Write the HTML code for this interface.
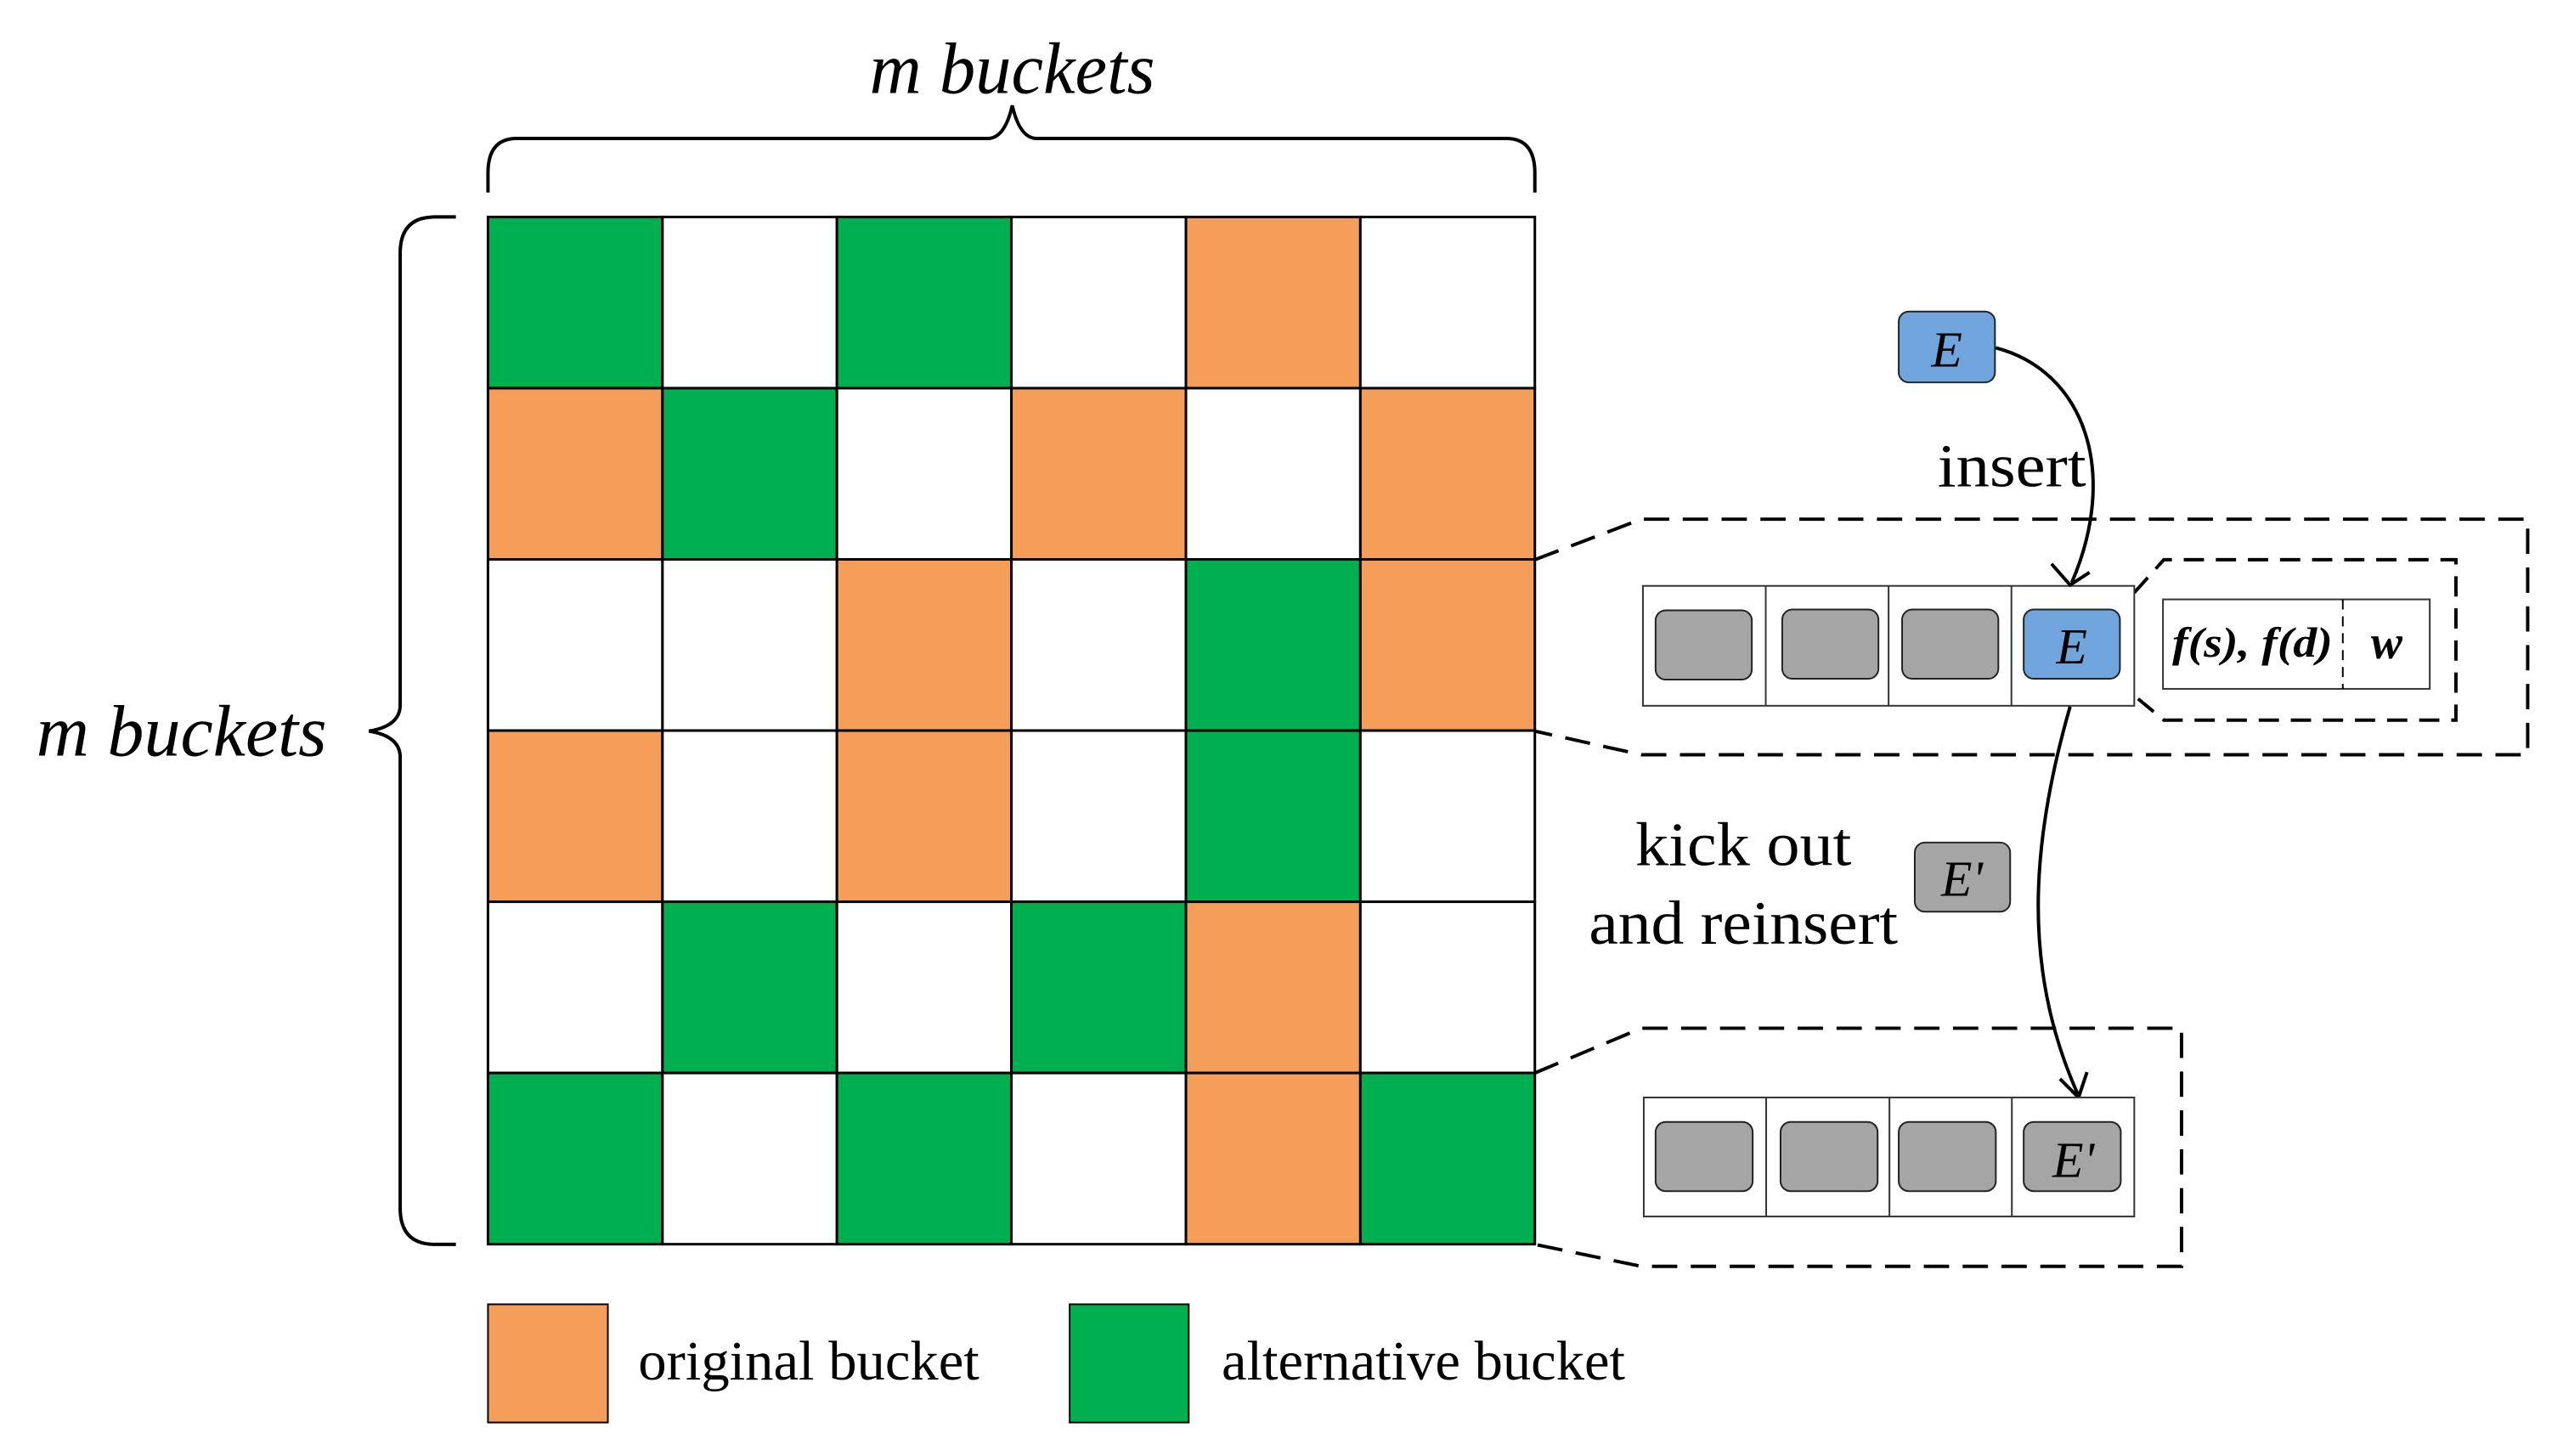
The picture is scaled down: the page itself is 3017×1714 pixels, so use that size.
<!DOCTYPE html>
<html><head><meta charset="utf-8"><style>html,body{margin:0;padding:0;background:#fff}svg{display:block}</style></head><body>
<svg width="3017" height="1714" viewBox="0 0 3017 1714" xmlns="http://www.w3.org/2000/svg" font-family="'Liberation Serif', serif">
<g transform="scale(0.9938)">
<g stroke="#000" stroke-width="3">
<rect x="578" y="257" width="206.7" height="202.8" fill="#00B050"/>
<rect x="784.7" y="257" width="206.7" height="202.8" fill="#fff"/>
<rect x="991.3" y="257" width="206.7" height="202.8" fill="#00B050"/>
<rect x="1198" y="257" width="206.7" height="202.8" fill="#fff"/>
<rect x="1404.7" y="257" width="206.7" height="202.8" fill="#F49E5A"/>
<rect x="1611.3" y="257" width="206.7" height="202.8" fill="#fff"/>
<rect x="578" y="459.8" width="206.7" height="202.8" fill="#F49E5A"/>
<rect x="784.7" y="459.8" width="206.7" height="202.8" fill="#00B050"/>
<rect x="991.3" y="459.8" width="206.7" height="202.8" fill="#fff"/>
<rect x="1198" y="459.8" width="206.7" height="202.8" fill="#F49E5A"/>
<rect x="1404.7" y="459.8" width="206.7" height="202.8" fill="#fff"/>
<rect x="1611.3" y="459.8" width="206.7" height="202.8" fill="#F49E5A"/>
<rect x="578" y="662.6" width="206.7" height="202.8" fill="#fff"/>
<rect x="784.7" y="662.6" width="206.7" height="202.8" fill="#fff"/>
<rect x="991.3" y="662.6" width="206.7" height="202.8" fill="#F49E5A"/>
<rect x="1198" y="662.6" width="206.7" height="202.8" fill="#fff"/>
<rect x="1404.7" y="662.6" width="206.7" height="202.8" fill="#00B050"/>
<rect x="1611.3" y="662.6" width="206.7" height="202.8" fill="#F49E5A"/>
<rect x="578" y="865.4" width="206.7" height="202.8" fill="#F49E5A"/>
<rect x="784.7" y="865.4" width="206.7" height="202.8" fill="#fff"/>
<rect x="991.3" y="865.4" width="206.7" height="202.8" fill="#F49E5A"/>
<rect x="1198" y="865.4" width="206.7" height="202.8" fill="#fff"/>
<rect x="1404.7" y="865.4" width="206.7" height="202.8" fill="#00B050"/>
<rect x="1611.3" y="865.4" width="206.7" height="202.8" fill="#fff"/>
<rect x="578" y="1068.2" width="206.7" height="202.8" fill="#fff"/>
<rect x="784.7" y="1068.2" width="206.7" height="202.8" fill="#00B050"/>
<rect x="991.3" y="1068.2" width="206.7" height="202.8" fill="#fff"/>
<rect x="1198" y="1068.2" width="206.7" height="202.8" fill="#00B050"/>
<rect x="1404.7" y="1068.2" width="206.7" height="202.8" fill="#F49E5A"/>
<rect x="1611.3" y="1068.2" width="206.7" height="202.8" fill="#fff"/>
<rect x="578" y="1271" width="206.7" height="202.8" fill="#00B050"/>
<rect x="784.7" y="1271" width="206.7" height="202.8" fill="#fff"/>
<rect x="991.3" y="1271" width="206.7" height="202.8" fill="#00B050"/>
<rect x="1198" y="1271" width="206.7" height="202.8" fill="#fff"/>
<rect x="1404.7" y="1271" width="206.7" height="202.8" fill="#F49E5A"/>
<rect x="1611.3" y="1271" width="206.7" height="202.8" fill="#00B050"/>
</g>

<path d="M578,228 L578,205 Q578,164 612,164 L1170,164 Q1190,164 1199,125 Q1208,164 1228,164 L1784,164 Q1818,164 1818,205 L1818,228" fill="none" stroke="#000" stroke-width="4"/>
<text x="1199" y="110" font-size="86" font-style="italic" text-anchor="middle" textLength="338" lengthAdjust="spacingAndGlyphs">m buckets</text>

<path d="M540,257 L515,257 Q474,257 474,300 L474,835 Q474,860 437,866 Q474,872 474,897 L474,1431 Q474,1474 515,1474 L540,1474" fill="none" stroke="#000" stroke-width="4"/>
<text x="43" y="895" font-size="86" font-style="italic" textLength="344" lengthAdjust="spacingAndGlyphs">m buckets</text>

<path d="M1818,663 L1944,615 L2994,615 L2994,894 L1944,894 L1818,866" fill="none" stroke="#000" stroke-width="4" stroke-dasharray="30,16"/>
<path d="M2528,702 L2563,663 L2909,663 L2909,853 L2563,853 L2528,824" fill="none" stroke="#000" stroke-width="4" stroke-dasharray="24,14"/>

<g stroke="#333" stroke-width="2" fill="#fff">
<rect x="1946" y="694" width="582" height="142"/>
<line x1="2091.5" y1="694" x2="2091.5" y2="836"/>
<line x1="2237" y1="694" x2="2237" y2="836"/>
<line x1="2382.5" y1="694" x2="2382.5" y2="836"/>
</g>
<g stroke="#222" stroke-width="2">
<rect x="1961" y="723" width="114" height="82" rx="12" fill="#A5A5A5"/>
<rect x="2111" y="722" width="114" height="82" rx="12" fill="#A5A5A5"/>
<rect x="2253" y="722" width="114" height="82" rx="12" fill="#A5A5A5"/>
<rect x="2397" y="722" width="114" height="82" rx="12" fill="#6FA5DC"/>
</g>
<text x="2454" y="786" font-size="60" font-style="italic" text-anchor="middle">E</text>

<rect x="2562" y="710" width="316" height="106" fill="#fff" stroke="#333" stroke-width="2"/>
<line x1="2775" y1="710" x2="2775" y2="816" stroke="#000" stroke-width="2" stroke-dasharray="12,8"/>
<text x="2668" y="778" font-size="50" font-style="italic" font-weight="bold" text-anchor="middle" textLength="190" lengthAdjust="spacingAndGlyphs">f(s), f(d)</text>
<text x="2827" y="780" font-size="56" font-style="italic" font-weight="bold" text-anchor="middle">w</text>

<rect x="2249" y="369" width="114" height="84" rx="12" fill="#6FA5DC" stroke="#222" stroke-width="2"/>
<text x="2306" y="434" font-size="60" font-style="italic" text-anchor="middle">E</text>

<path d="M2364,412 C2470,440 2510,560 2454,690" fill="none" stroke="#000" stroke-width="4"/>
<path d="M2430,668 L2452,693 L2475,678" fill="none" stroke="#000" stroke-width="4"/>
<text x="2383" y="576" font-size="72" text-anchor="middle" textLength="176" lengthAdjust="spacingAndGlyphs">insert</text>

<path d="M2452,837 C2405,1000 2395,1150 2462,1298" fill="none" stroke="#000" stroke-width="4"/>
<path d="M2440,1278 L2462,1300 L2472,1270" fill="none" stroke="#000" stroke-width="4"/>

<text x="2065" y="1025" font-size="74" text-anchor="middle" textLength="256" lengthAdjust="spacingAndGlyphs">kick out</text>
<text x="2065" y="1118" font-size="74" text-anchor="middle" textLength="366" lengthAdjust="spacingAndGlyphs">and reinsert</text>

<rect x="2268" y="998" width="113" height="82" rx="12" fill="#A5A5A5" stroke="#222" stroke-width="2"/>
<text x="2324" y="1061" font-size="60" font-style="italic" text-anchor="middle">E'</text>

<path d="M1818,1271 L1944,1218 L2584,1218 L2584,1500 L1944,1500 L1818,1474" fill="none" stroke="#000" stroke-width="4" stroke-dasharray="30,16"/>
<g stroke="#333" stroke-width="2" fill="#fff">
<rect x="1947" y="1300" width="581" height="141"/>
<line x1="2092" y1="1300" x2="2092" y2="1441"/>
<line x1="2238" y1="1300" x2="2238" y2="1441"/>
<line x1="2383" y1="1300" x2="2383" y2="1441"/>
</g>
<g stroke="#222" stroke-width="2" fill="#A5A5A5">
<rect x="1961" y="1329" width="115" height="82" rx="12"/>
<rect x="2109" y="1329" width="115" height="82" rx="12"/>
<rect x="2249" y="1329" width="115" height="82" rx="12"/>
<rect x="2397" y="1329" width="115" height="82" rx="12"/>
</g>
<text x="2456" y="1394" font-size="60" font-style="italic" text-anchor="middle">E'</text>

<rect x="578" y="1545" width="142" height="140" fill="#F49E5A" stroke="#000" stroke-width="2"/>
<text x="756" y="1634" font-size="66" textLength="404" lengthAdjust="spacingAndGlyphs">original bucket</text>
<rect x="1267" y="1545" width="141" height="140" fill="#00B050" stroke="#000" stroke-width="2"/>
<text x="1447" y="1634" font-size="66" textLength="478" lengthAdjust="spacingAndGlyphs">alternative bucket</text>
</g>
</svg>
</body></html>
